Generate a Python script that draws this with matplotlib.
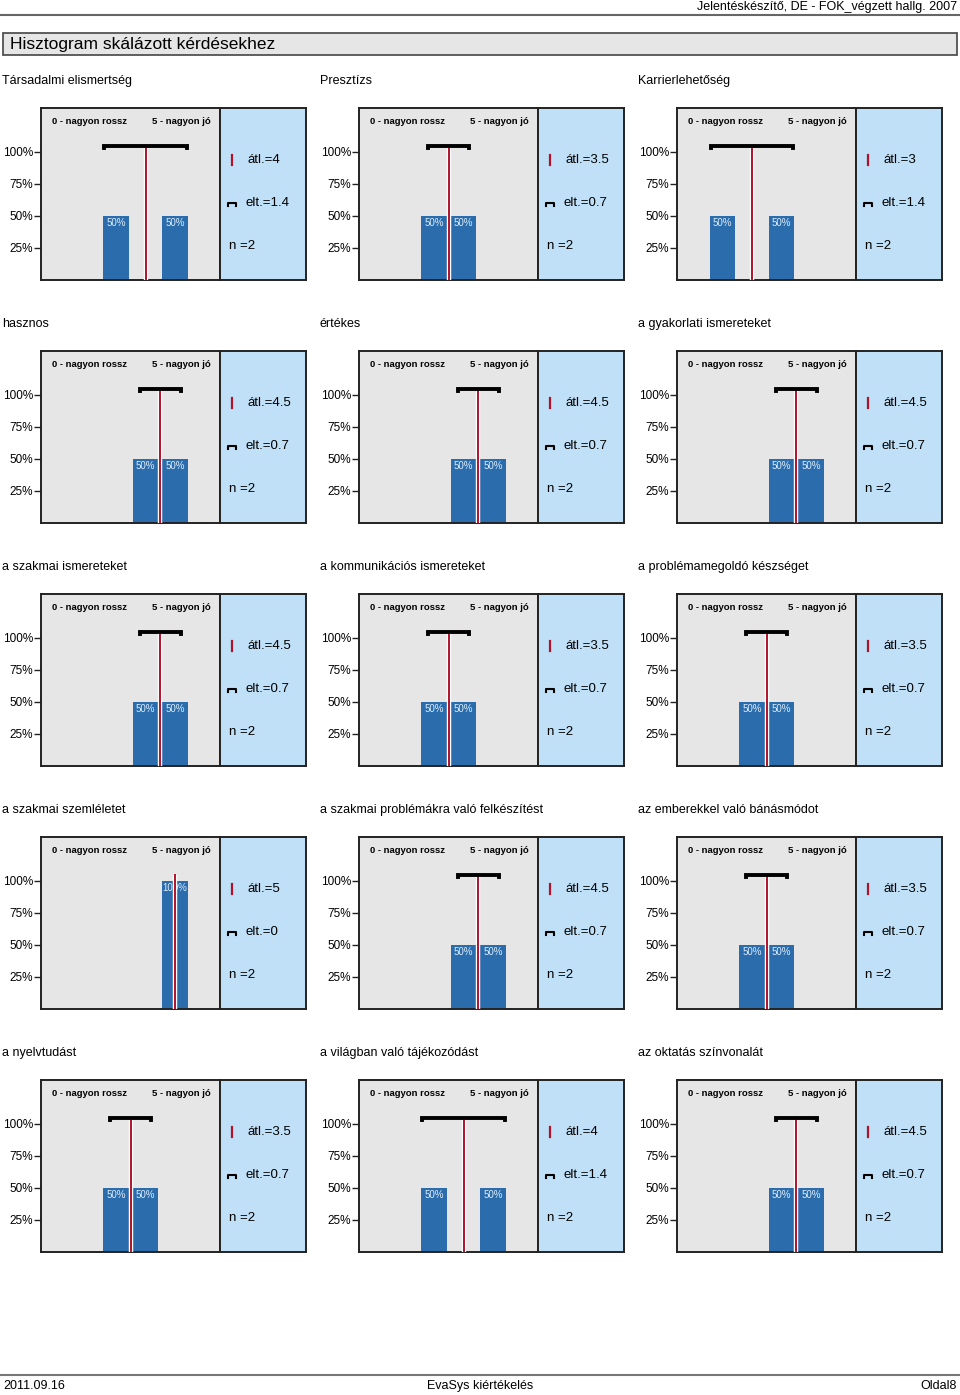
import matplotlib
matplotlib.use('Agg')
import matplotlib.pyplot as plt
from matplotlib.patches import Rectangle
from matplotlib.lines import Line2D

plt.rcParams['font.family'] = ['Liberation Sans', 'DejaVu Sans']

W, H = 960, 1395

titles = [
    "Társadalmi elismertség", "Presztízs", "Karrierlehetőség",
    "hasznos", "értékes", "a gyakorlati ismereteket",
    "a szakmai ismereteket", "a kommunikációs ismereteket", "a problémamegoldó készséget",
    "a szakmai szemléletet", "a szakmai problémákra való felkészítést", "az emberekkel való bánásmódot",
    "a nyelvtudást", "a világban való tájékozódást", "az oktatás színvonalát",
]
scale = [1, 2, 3, 4, 5]
pcts = [
    [0, 0, 50, 0, 50], [0, 0, 50, 50, 0], [0, 50, 0, 50, 0],
    [0, 0, 0, 50, 50], [0, 0, 0, 50, 50], [0, 0, 0, 50, 50],
    [0, 0, 0, 50, 50], [0, 0, 50, 50, 0], [0, 0, 50, 50, 0],
    [0, 0, 0, 0, 100], [0, 0, 0, 50, 50], [0, 0, 50, 50, 0],
    [0, 0, 50, 50, 0], [0, 0, 50, 0, 50], [0, 0, 0, 50, 50],
]
means = [4, 3.5, 3, 4.5, 4.5, 4.5, 4.5, 3.5, 3.5, 5, 4.5, 3.5, 3.5, 4, 4.5]
stds = [1.4, 0.7, 1.4, 0.7, 0.7, 0.7, 0.7, 0.7, 0.7, 0, 0.7, 0.7, 0.7, 1.4, 0.7]
mean_lbl = ["4", "3.5", "3", "4.5", "4.5", "4.5", "4.5", "3.5", "3.5", "5", "4.5", "3.5", "3.5", "4", "4.5"]
std_lbl = ["1.4", "0.7", "1.4", "0.7", "0.7", "0.7", "0.7", "0.7", "0.7", "0", "0.7", "0.7", "0.7", "1.4", "0.7"]
ns = [2] * 15
yticks = [25, 50, 75, 100]
ytick_labels = ["25%", "50%", "75%", "100%"]

GREY = "#e6e6e6"
BLUE = "#bfe0f7"
BAR = "#2b6cad"
RED = "#b0122a"
EDGE = "#222222"

fig = plt.figure(figsize=(W / 100, H / 100), dpi=100)


def px_axes(x0, y0, x1, y1):
    return fig.add_axes([x0 / W, 1 - y1 / H, (x1 - x0) / W, (y1 - y0) / H])


def fx(x):
    return x / W


def fy(y):
    return 1 - y / H


# header
fig.text(fx(957), fy(7), "Jelentéskészítő, DE - FOK_végzett hallg. 2007", ha="right", va="center", fontsize=9)
fig.add_artist(Line2D([0, 1], [fy(15), fy(15)], color="#666666", lw=1.5))
fig.add_artist(Rectangle((fx(3), fy(55)), fx(954), (55 - 33) / H, facecolor=GREY,
                         edgecolor="#444444", lw=1.2, transform=fig.transFigure))
fig.text(fx(10), fy(45), "Hisztogram skálázott kérdésekhez", ha="left", va="center", fontsize=12.5)

# footer
fig.add_artist(Line2D([0, 1], [fy(1375), fy(1375)], color="#777777", lw=1.5))
fig.text(fx(3), fy(1386), "2011.09.16", ha="left", va="center", fontsize=9)
fig.text(fx(480), fy(1386), "EvaSys kiértékelés", ha="center", va="center", fontsize=9)
fig.text(fx(957), fy(1386), "Oldal8", ha="right", va="center", fontsize=9)

col_x = [0, 318, 636]
for i, title in enumerate(titles):
    r, c = divmod(i, 3)
    ox = col_x[c]
    oy = r * 243
    fig.text(fx(ox + 2), fy(oy + 81), title, ha="left", va="center", fontsize=9)

    # histogram panel
    ax = px_axes(ox + 41, oy + 108, ox + 220, oy + 280)
    ax.set_facecolor(GREY)
    ax.set_xlim(0.458, 6.525)
    ax.set_ylim(0, 134)
    ax.bar(scale, pcts[i], width=0.88, color=BAR, zorder=2)
    for s, p in zip(scale, pcts[i]):
        if p > 0:
            ax.text(s, p - 2, f"{p}%", ha="center", va="top", fontsize=7, color="#dcecfa", zorder=3)
    m, sd = means[i], stds[i]
    ax.plot([m, m], [0, 104.5], color="white", lw=3.2, zorder=4, solid_capstyle="butt")
    ax.plot([m, m], [0, 105], color=RED, lw=1.4, zorder=5, solid_capstyle="butt")
    if sd > 0:
        ax.plot([m - sd, m - sd, m + sd, m + sd], [102.5, 104.5, 104.5, 102.5],
                color="black", lw=2.8, zorder=6, solid_joinstyle="miter")
    ax.text(0.061, 0.924, "0 - nagyon rossz", transform=ax.transAxes, fontsize=6.8,
            fontweight="bold", ha="left", va="center")
    ax.text(0.95, 0.924, "5 - nagyon jó", transform=ax.transAxes, fontsize=6.8,
            fontweight="bold", ha="right", va="center")
    ax.set_xticks([])
    ax.set_yticks(yticks)
    ax.set_yticklabels(ytick_labels, fontsize=8.5)
    ax.tick_params(axis="y", direction="out", length=5, width=1, pad=0.5, color="#222222")
    for sp in ax.spines.values():
        sp.set_color(EDGE)
        sp.set_linewidth(1.4)

    # info panel
    bx = px_axes(ox + 220, oy + 108, ox + 306, oy + 280)
    bx.set_facecolor(BLUE)
    bx.set_xlim(0, 86)
    bx.set_ylim(172, 0)
    bx.set_xticks([])
    bx.set_yticks([])
    for sp in bx.spines.values():
        sp.set_color(EDGE)
        sp.set_linewidth(1.4)
    bx.plot([11.5, 11.5], [47, 57], color=RED, lw=1.6)
    bx.text(27, 52, f"átl.={mean_lbl[i]}", fontsize=9.5, ha="left", va="center")
    bx.plot([8, 8, 16, 16], [97.5, 95, 95, 97.5], color="black", lw=1.5)
    bx.text(25, 95, f"elt.={std_lbl[i]}", fontsize=9.5, ha="left", va="center")
    bx.text(9, 138, f"n ={ns[i]}", fontsize=9.5, ha="left", va="center")

fig.savefig("out.png", dpi=100)
